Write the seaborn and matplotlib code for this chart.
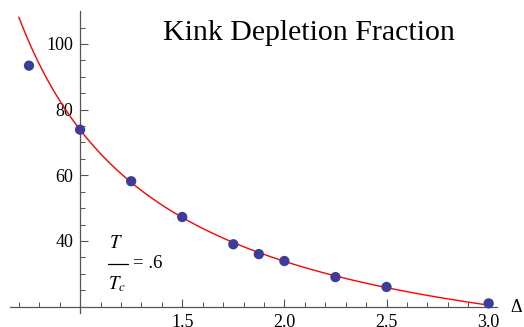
import numpy as np
import pandas as pd
import seaborn as sns
import matplotlib.pyplot as plt
from matplotlib.lines import Line2D

sns.set_style('white')
plt.rcParams['font.family'] = ['Liberation Serif', 'DejaVu Serif']
plt.rcParams['mathtext.fontset'] = 'stix'
plt.rcParams['text.color'] = 'black'
plt.rcParams['xtick.color'] = 'black'
plt.rcParams['ytick.color'] = 'black'

## measured points
delta = [0.75, 1.0, 1.25, 1.5, 1.75, 1.875, 2.0, 2.25, 2.5, 3.0]
fraction = [93.4, 73.9, 58.2, 47.3, 39.0, 36.0, 33.9, 29.0, 26.0, 21.0]
x_ticks = [1.5, 2.0, 2.5, 3.0]
y_ticks = [40, 60, 80, 100]

df = pd.DataFrame({'delta': delta, 'fraction': fraction})

## fit y = a/x + b (first point left out, like the original fit)
a, b = np.polyfit(1.0 / df['delta'][1:], df['fraction'][1:], 1)
xs = np.linspace(0.70, 3.0, 200)
fit = pd.DataFrame({'delta': xs, 'fraction': a / xs + b})

W, H = 524.0, 327.0
fig = plt.figure(figsize=(5.24, 3.27), dpi=100)
ax = fig.add_axes([0, 0, 1, 1])
ax.patch.set_alpha(0)

sns.lineplot(data=fit, x='delta', y='fraction', color='#ff0000', lw=1, ax=ax)
sns.scatterplot(data=df, x='delta', y='fraction', color='#3d3d99', s=55,
                edgecolor='none', zorder=3, ax=ax)

ax.set_xlim(0.608, 3.173)
ax.set_ylim(13.8, 113.4)

## mathematica style axes crossing at (1, 20)
for s in ['top', 'right']:
    ax.spines[s].set_visible(False)
ax.spines['left'].set_position(('data', 1.0))
ax.spines['bottom'].set_position(('data', 20))
ax.spines['left'].set_bounds(18, 110)
ax.spines['bottom'].set_bounds(0.657, 3.04)
for s in ['left', 'bottom']:
    ax.spines[s].set_color('#555555')
    ax.spines[s].set_linewidth(0.9)

ax.set_xticks(x_ticks)
ax.set_xticklabels(['%.1f' % t for t in x_ticks])
ax.set_xticks(np.arange(0.7, 3.05, 0.1), minor=True)
ax.set_yticks(y_ticks)
ax.set_yticklabels([str(t) for t in y_ticks])
ax.set_yticks(np.arange(25, 110, 5), minor=True)
ax.tick_params(which='major', direction='in', length=6, width=0.8,
               color='#555555', labelcolor='black', labelsize=13, pad=5)
ax.tick_params(which='minor', direction='in', length=3.5, width=0.7,
               color='#555555')
ax.tick_params(axis='x', which='both', bottom=True)
ax.tick_params(axis='y', which='both', left=True)
ax.set_xlabel('')
ax.set_ylabel('')

## title
fig.text(163 / W, 1 - 33 / H, 'Kink Depletion Fraction', fontsize=21.5,
         ha='left', va='center')

## T / T_c = .6 written as a stacked fraction
fig.text(116 / W, 1 - 243 / H, r'$T$', fontsize=13.5, ha='center', va='center')
fig.add_artist(Line2D([107.5 / W, 127.5 / W], [1 - 263.5 / H, 1 - 263.5 / H],
                      color='black', lw=0.9))
fig.text(133 / W, 1 - 263.5 / H, '= .6', fontsize=13.5, ha='left', va='center')
fig.text(117 / W, 1 - 284 / H, r'$T_c$', fontsize=13.5, ha='center', va='center')

fig.text(510 / W, 1 - 307 / H, '\u0394', fontsize=13, ha='left', va='center')

plt.savefig('out.png', dpi=100)
